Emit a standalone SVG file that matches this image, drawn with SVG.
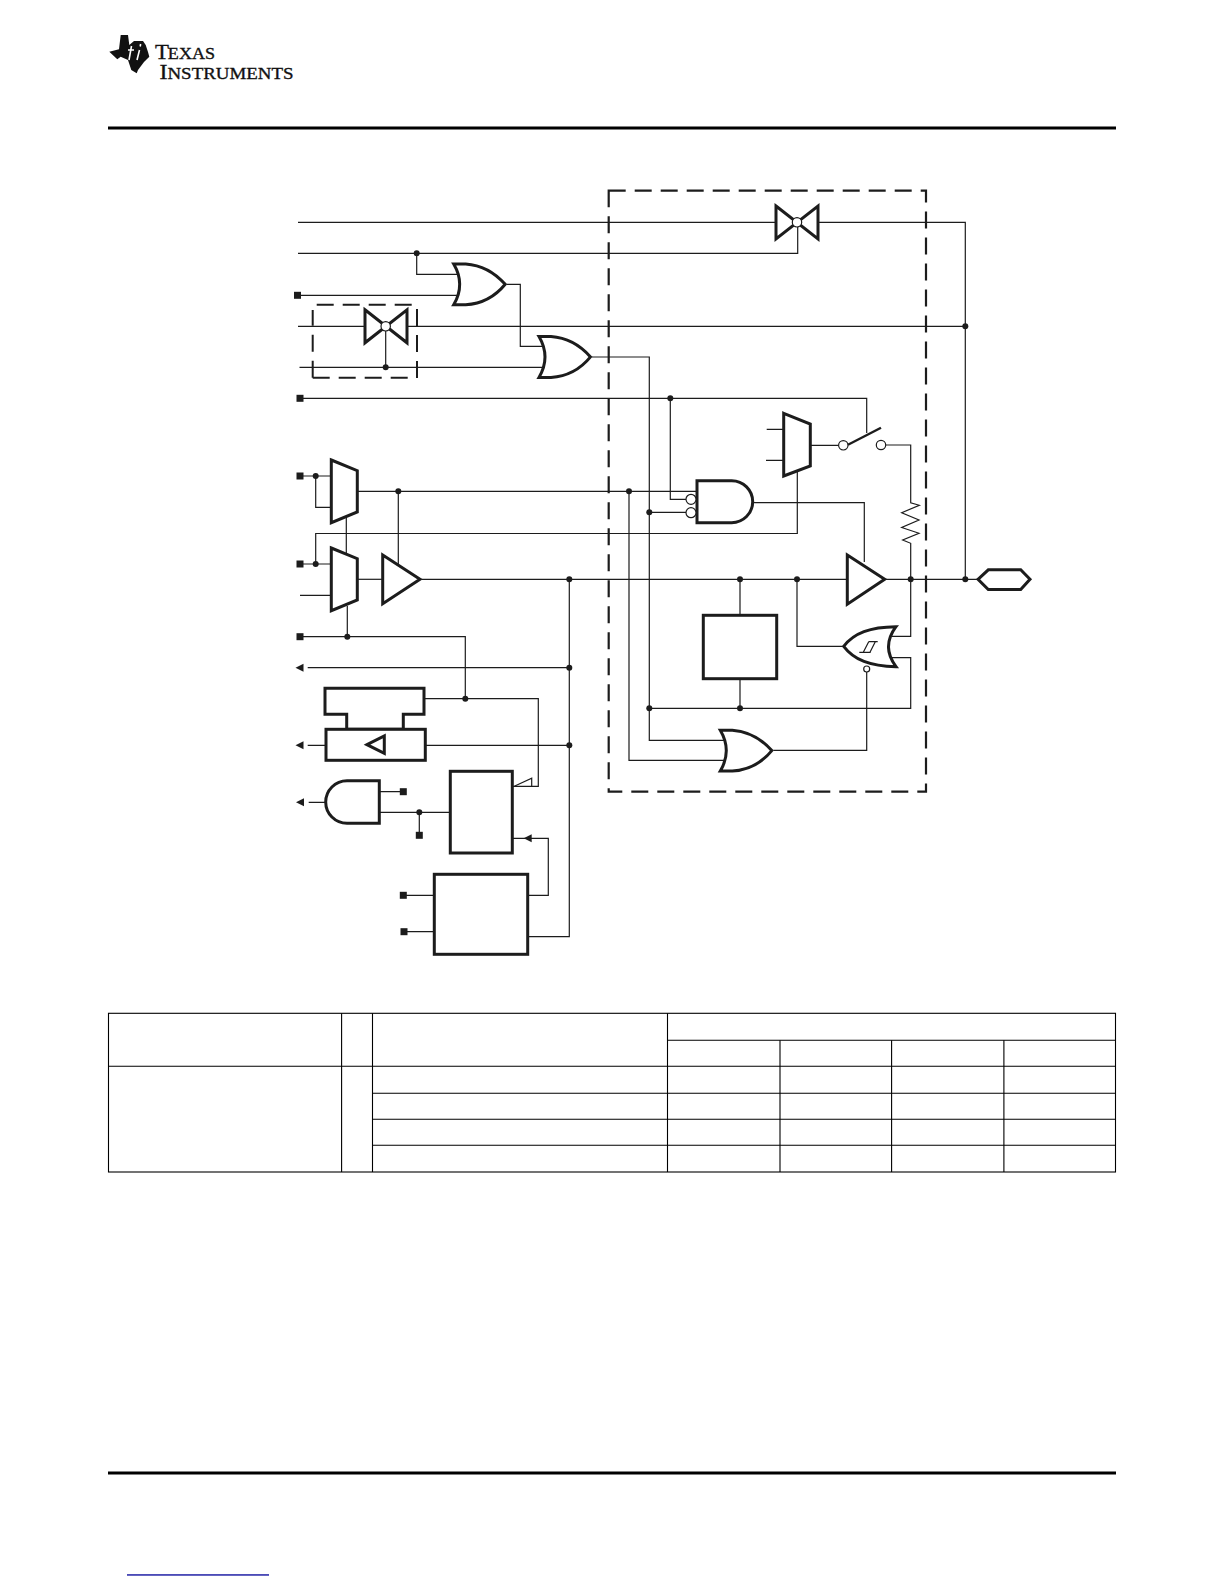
<svg xmlns="http://www.w3.org/2000/svg" xmlns:xlink="http://www.w3.org/1999/xlink" width="1224" height="1584" viewBox="0 0 1224 1584">
<style>
.w{fill:none;stroke:#1c1c1c;stroke-width:1.2}
.g{fill:#fff;stroke:#1c1c1c;stroke-width:3;stroke-linejoin:miter}
.d{fill:#1c1c1c;stroke:none}
.o{fill:#fff;stroke:#1c1c1c;stroke-width:1.2}
.big{fill:none;stroke:#1c1c1c;stroke-width:2.2;stroke-dasharray:17 9}
.small{fill:none;stroke:#1c1c1c;stroke-width:2;stroke-dasharray:17 9}
.t{stroke:#000;stroke-width:1.1;fill:none}
.r{fill:#000}
.logo{font-family:"Liberation Serif",serif;fill:#111;stroke:#111;stroke-width:.35}
</style>
<defs>
<path id="or" d="M3 1.200 L15 1.200 C34 2.500 46 12 54.500 21.600 C46 32 34 41 15 42.100 L3 42.100 Q15 21.600 3 1.200 Z"/>
<path id="tg" class="g" d="M0 0 L42 33 V0 L0 33 Z"/>
<circle id="dot" r="3" class="d"/>
<rect id="sq" x="-3.500" y="-3.500" width="7" height="7" class="d"/>
<path id="ah" class="d" d="M-8 0 L0 -4 V4 Z"/>
</defs>
<g id="logo">
<path d="M109.300 51.700 L119 49.300 L120.700 35 H128 L129.300 45 L134 41 L143 41 L145.700 45 L148 52 L149.300 56.700 L144 62 L138 70 L136.700 73.300 L131.300 70 L128 60 L120.700 56.700 L117.300 59.300 Z" fill="#111"/>
<path d="M131.500 46 L129 60 M128 50 H134 M139.500 50 L137 60 M140.600 44 L140.200 46.500" fill="none" stroke="#fff" stroke-width="1.600"/>
<text class="logo" x="155" y="58.500" textLength="60" lengthAdjust="spacingAndGlyphs"><tspan font-size="21.500">T</tspan><tspan font-size="17" dx="-1">EXAS</tspan></text>
<text class="logo" x="159.500" y="78.500" textLength="134" lengthAdjust="spacingAndGlyphs"><tspan font-size="21.500">I</tspan><tspan font-size="17">NSTRUMENTS</tspan></text>
</g>
<rect id="rule-top" class="r" x="108" y="126.500" width="1008" height="3"/>
<rect id="rule-bottom" class="r" x="108" y="1471.500" width="1008" height="3"/>
<rect id="footer-link" x="127" y="1574.300" width="142" height="1.300" fill="#000099"/>

<g id="connectors">
<path class="w" d="M298 222.300 H776 M818 222.300 H965.300 V579.300"/>
<path class="w" d="M298 253.300 H797.700 V227"/>
<path class="w" d="M416.700 253.300 V274.300 H458"/>
<path class="w" d="M300 295.300 H458"/>
<path class="w" d="M506.700 284.300 H520.300 V346.300 H543"/>
<path class="w" d="M298 326.300 H364.700 M407.300 326.300 H965.300"/>
<path class="w" d="M299.500 367.300 H543 M385.700 331 V367.300"/>
<path class="w" d="M592 357 H649.300 V740.300 H724"/>
<path class="w" d="M300 398.300 H866.700 V433"/>
<path class="w" d="M670.300 398.300 V499.300 H686"/>
<path class="w" d="M300 476 H331 M315.700 476 V507.300 H331"/>
<path class="w" d="M357.300 491.300 H697"/>
<path class="w" d="M398.300 491.300 V566"/>
<path class="w" d="M629 491.300 V760.300 H724"/>
<path class="w" d="M649.300 512.300 H686"/>
<path class="w" d="M315.700 564 V533.500 H797.300 V472"/>
<path class="w" d="M346.300 517 V553"/>
<path class="w" d="M300 564 H331 M300 595.300 H331"/>
<path class="w" d="M357.300 579.300 H382.700"/>
<path class="w" d="M421.300 579.300 H847.300 M886 579.300 H977.300"/>
<path class="w" d="M347.300 606 V636.700 M300 636.700 H465.300 V698.700"/>
<path class="w" d="M307.700 667.700 H569.300"/>
<path class="w" d="M569.300 579.300 V936.700 H527.700"/>
<path class="w" d="M424 698.700 H538.300 V786.300 H513"/>
<path class="w" d="M514.300 786.300 L531.700 778.300 V786.300"/>
<path class="w" d="M307.700 745.300 H326 M425.300 745.300 H569.300"/>
<path class="w" d="M308.700 802.300 H325 M379.300 791.700 H403.300 M379.300 812.300 H450.300 M419.300 812.300 V835.300"/>
<path class="w" d="M513 838.300 H548.300 V895.300 H527.700"/>
<path class="w" d="M403.300 895.300 H434.300 M404 931.700 H434.300"/>
<path class="w" d="M752 502.700 H864.300 V562"/>
<path class="w" d="M766.700 429.300 H783.700 M766 460.300 H783.700 M810.300 445.300 H838.600"/>
<path class="w" d="M885.700 445 H910.700 V502.700 L919.300 505.300 L901.700 512.700 L919 520 L901.700 527.500 L919 533.300 L902.700 540 L910.700 543.300 V636.300 H892"/>
<path class="w" d="M740 579.300 V615.300 M740 678.700 V708.300"/>
<path class="w" d="M649.300 708.300 H910.700 V657.700 H892"/>
<path class="w" d="M797 579.300 V646.300 H843"/>
<path class="w" d="M866.700 672 V750.300 H773.300"/>
<g>
<use xlink:href="#dot" href="#dot" x="416.700" y="253.300"/>
<use xlink:href="#dot" href="#dot" x="385.700" y="367.300"/>
<use xlink:href="#dot" href="#dot" x="670.300" y="398.300"/>
<use xlink:href="#dot" href="#dot" x="315.700" y="476"/>
<use xlink:href="#dot" href="#dot" x="398.300" y="491.300"/>
<use xlink:href="#dot" href="#dot" x="629" y="491.300"/>
<use xlink:href="#dot" href="#dot" x="649.300" y="512.300"/>
<use xlink:href="#dot" href="#dot" x="315.700" y="564"/>
<use xlink:href="#dot" href="#dot" x="569.300" y="579.300"/>
<use xlink:href="#dot" href="#dot" x="740" y="579.300"/>
<use xlink:href="#dot" href="#dot" x="797" y="579.300"/>
<use xlink:href="#dot" href="#dot" x="910.700" y="579.300"/>
<use xlink:href="#dot" href="#dot" x="965.300" y="579.300"/>
<use xlink:href="#dot" href="#dot" x="965.300" y="326.300"/>
<use xlink:href="#dot" href="#dot" x="347.300" y="636.700"/>
<use xlink:href="#dot" href="#dot" x="569.300" y="667.700"/>
<use xlink:href="#dot" href="#dot" x="465.300" y="698.700"/>
<use xlink:href="#dot" href="#dot" x="569.300" y="745.300"/>
<use xlink:href="#dot" href="#dot" x="419.300" y="812.300"/>
<use xlink:href="#dot" href="#dot" x="649.300" y="708.300"/>
<use xlink:href="#dot" href="#dot" x="740" y="708.300"/>
<use xlink:href="#sq" href="#sq" x="297.500" y="295.300"/>
<use xlink:href="#sq" href="#sq" x="300" y="398.300"/>
<use xlink:href="#sq" href="#sq" x="300" y="476"/>
<use xlink:href="#sq" href="#sq" x="300" y="564"/>
<use xlink:href="#sq" href="#sq" x="300" y="636.700"/>
<use xlink:href="#sq" href="#sq" x="403.300" y="791.700"/>
<use xlink:href="#sq" href="#sq" x="419.300" y="835.300"/>
<use xlink:href="#sq" href="#sq" x="403.300" y="895.300"/>
<use xlink:href="#sq" href="#sq" x="404" y="931.700"/>
<use xlink:href="#ah" href="#ah" x="303.500" y="667.700"/>
<use xlink:href="#ah" href="#ah" x="303.500" y="745.300"/>
<use xlink:href="#ah" href="#ah" x="304" y="802.300"/>
<use xlink:href="#ah" href="#ah" x="531.700" y="838.300"/>
</g>
</g>

<g id="region-outer"><rect class="big" x="608.700" y="190.700" width="317.300" height="601"/></g>
<g id="region-inner">
<path class="small" d="M312.700 377.700 V310"/>
<path class="small" d="M312.700 377.700 H412"/>
<path class="small" d="M316.700 304.700 H412"/>
<path class="small" d="M417 378 V309"/>
</g>

<g id="tg-top"><use xlink:href="#tg" href="#tg" x="776" y="206"/><circle class="o" cx="797" cy="222.300" r="4.700"/></g>
<g id="tg-inner"><use xlink:href="#tg" href="#tg" x="365" y="309.800"/><circle class="o" cx="385.700" cy="326.300" r="4.700"/></g>
<g id="or-1"><use xlink:href="#or" href="#or" class="g" x="450.700" y="262.700"/></g>
<g id="or-2"><use xlink:href="#or" href="#or" class="g" x="536" y="335.300"/></g>
<g id="or-3"><use xlink:href="#or" href="#or" class="g" x="717.300" y="729"/></g>
<g id="mux-1"><path class="g" d="M331.300 460 L357.300 470.700 V512 L331.300 522.700 Z"/></g>
<g id="mux-2"><path class="g" d="M331.300 548 L357.300 558.700 V600 L331.300 610.700 Z"/></g>
<g id="mux-3"><path class="g" d="M783.700 413.300 L810.300 424 V466 L783.700 476 Z"/></g>
<g id="buffer-1"><path class="g" d="M382.700 555 L420 579.300 L382.700 603.700 Z"/></g>
<g id="buffer-2"><path class="g" d="M847.300 555 L884.700 579.300 L847.300 604.300 Z"/></g>
<g id="and-1">
<path class="g" d="M697 480.700 H731.700 A21 21 0 0 1 731.700 522.700 H697 Z"/>
<circle class="o" cx="691" cy="499.300" r="5"/><circle class="o" cx="691" cy="512.700" r="5"/>
</g>
<g id="switch">
<circle class="o" cx="843.300" cy="445.300" r="4.700"/><circle class="o" cx="881" cy="445" r="4.700"/>
<path d="M848 444.800 L881 427.700" fill="none" stroke="#1c1c1c" stroke-width="2.400"/>
</g>
<g id="terminal"><path class="g" d="M978 579.300 L988.300 569.800 H1020.700 L1030 579.300 L1020.700 589.500 H988.300 Z"/></g>
<g id="box-e"><rect class="g" x="703.300" y="615.300" width="73.400" height="63.400"/></g>
<g id="schmitt">
<path class="g" d="M843.700 646.300 C854 633 870 627 896 626.700 Q881 646.700 896 666.700 C870 666 854 660 843.700 646.300 Z"/>
<path class="w" d="M859.300 652.300 H870.700 M868.700 641.700 H877.700 M863.300 652.300 L868.700 641.700 M870 652.300 L875.300 641.700"/>
<circle class="o" cx="866.700" cy="669" r="3"/>
</g>
<g id="block-a"><path class="g" d="M325 688.300 H424 V714.300 H403.300 V729.300 H346.700 V714.300 H325 Z"/></g>
<g id="block-b"><rect class="g" x="326" y="729.300" width="99.300" height="31"/><path class="g" d="M367 744.700 L384.300 736 V753.400 Z"/></g>
<g id="and-2"><path class="g" d="M379.300 780.700 H347 A21.300 21.300 0 0 0 347 823.300 H379.300 Z"/></g>
<g id="box-c"><rect class="g" x="450.300" y="771.300" width="62" height="81.700"/></g>
<g id="box-d"><rect class="g" x="434.300" y="874.300" width="93.400" height="80"/></g>

<g id="table">
<rect class="t" x="108.500" y="1013.300" width="1007" height="158.700"/>
<path class="t" d="M341.600 1013.300 V1172 M372.500 1013.300 V1172 M667.500 1013.300 V1172 M780 1040.300 V1172 M891.600 1040.300 V1172 M1003.900 1040.300 V1172"/>
<path class="t" d="M667.500 1040.300 H1115.500 M108.500 1066.300 H1115.500 M372.500 1093.300 H1115.500 M372.500 1119.300 H1115.500 M372.500 1145.300 H1115.500"/>
</g>
</svg>
